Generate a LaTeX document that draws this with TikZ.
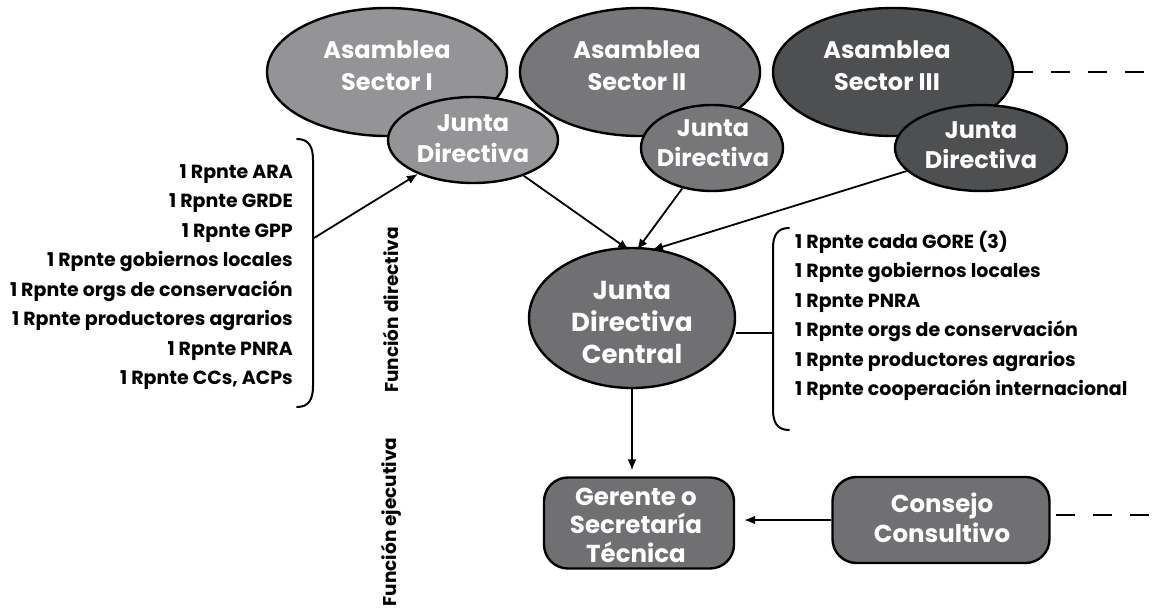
\documentclass[tikz,border=0pt]{standalone}
\usepackage{fontspec}
\setmainfont{Poppins}
\usetikzlibrary{arrows.meta,shapes.geometric}
\definecolor{gLight}{HTML}{949497}
\definecolor{gMid}{HTML}{77777A}
\definecolor{gDark}{HTML}{4E4F51}
\definecolor{gBox}{HTML}{707073}
\tikzset{
  blob/.style={ellipse, draw=black, line width=2.4pt, inner sep=0pt},
  roundbox/.style={rectangle, rounded corners=24pt, draw=black, line width=2.4pt, inner sep=0pt},
  title/.style={text=white, align=center, inner sep=0pt,
    font=\fontsize{24}{31}\selectfont\bfseries},
  arr/.style={line width=1.8pt, -{Latex[length=11pt,width=9pt]}},
  brace/.style={line width=2pt, line cap=round},
  ext/.style={line width=2pt, dash pattern=on 19pt off 18pt},
  listtxt/.style={font=\fontsize{19}{29.5}\selectfont\bfseries, inner sep=0pt},
  sidetxt/.style={font=\fontsize{18.5}{20}\selectfont\bfseries, rotate=90, inner sep=0pt}
}
\begin{document}
\begin{tikzpicture}[x=1pt,y=-1pt]
\useasboundingbox (0,0) rectangle (1155,610);

% sector assemblies with their boards
\node[blob, fill=gLight, minimum width=240pt, minimum height=128pt] (a1) at (387,72) {};
\node[title, font=\fontsize{24}{32}\selectfont\bfseries] (a1t) at (387,66) {Asamblea\\Sector I};
\node[blob, fill=gLight, minimum width=170pt, minimum height=86pt] (j1) at (473,140) {};
\node[title] (j1t) at (473,139) {Junta\\Directiva};

\node[blob, fill=gMid, minimum width=240pt, minimum height=128pt] (a2) at (640,72) {};
\node[title, font=\fontsize{24}{32}\selectfont\bfseries] (a2t) at (637,66) {Asamblea\\Sector II};
\node[blob, fill=gMid, minimum width=142pt, minimum height=86pt] (j2) at (712,148) {};
\node[title, font=\fontsize{24}{30}\selectfont\bfseries] (j2t) at (713,143) {Junta\\Directiva};

\node[blob, fill=gDark, minimum width=240pt, minimum height=128pt] (a3) at (893,72) {};
\node[title, font=\fontsize{24}{32}\selectfont\bfseries] (a3t) at (887,66) {Asamblea\\Sector III};
\node[blob, fill=gDark, minimum width=172pt, minimum height=86pt] (j3) at (981,148) {};
\node[title, font=\fontsize{24}{30}\selectfont\bfseries] (j3t) at (981,145) {Junta\\Directiva};

% central board
\node[blob, fill=gBox, minimum width=206pt, minimum height=140pt] (jc) at (632,318) {};
\node[title, font=\fontsize{26}{32}\selectfont\bfseries] (jct) at (632,322) {Junta\\Directiva\\Central};

% executive level
\node[roundbox, fill=gBox, minimum width=190pt, minimum height=91pt] (ger) at (639,523) {};
\node[title, font=\fontsize{24.5}{28.5}\selectfont\bfseries] (gert) at (636,525) {Gerente o\\Secretaría\\Técnica};
\node[roundbox, fill=gBox, minimum width=217pt, minimum height=86pt] (con) at (941,520) {};
\node[title, font=\fontsize{24.5}{30}\selectfont\bfseries] (cont) at (942,518) {Consejo\\Consultivo};

% arrows into the central board
\coordinate (t1) at (629,250);
\coordinate (t2) at (637,250);
\coordinate (t3) at (652,250);
\draw[arr] (j1) -- (t1);
\draw[arr] (j2) -- (t2);
\draw[arr] (j3) -- (t3);

% central board to manager, council to manager
\draw[arr, shorten >=6pt] (jc.south) -- (jc.south |- ger.north);
\draw[arr, shorten >=9pt] (con.west) -- (ger.east |- con.west);

% open-ended links
\coordinate (e1) at (1150,72);
\coordinate (s2) at (1056,515);
\coordinate (e2) at (1150,515);
\draw[ext] (a3.east) -- (e1);
\draw[ext] (s2) -- (e2);

% left member list and brace
\node[listtxt, align=right, anchor=east] (ll) at (293,277) {1 Rpnte ARA\\1 Rpnte GRDE\\1 Rpnte GPP\\1 Rpnte gobiernos locales\\1 Rpnte orgs de conservación\\1 Rpnte productores agrarios\\1 Rpnte PNRA\\1 Rpnte CCs, ACPs};
\draw[brace] (297,139) .. controls (309,139) and (313,147) .. (313,160) -- (313,386) .. controls (313,399) and (309,407) .. (297,407);
\coordinate (lb) at (314,238);
\draw[arr] (lb) -- (j1);

% right member list and brace
\node[listtxt, align=left, anchor=west] (rl) at (795,316) {1 Rpnte cada GORE (3)\\1 Rpnte gobiernos locales\\1 Rpnte PNRA\\1 Rpnte orgs de conservación\\1 Rpnte productores agrarios\\1 Rpnte cooperación internacional};
\draw[brace] (789,228) .. controls (777,228) and (773,236) .. (773,248) -- (773,410) .. controls (773,422) and (777,430) .. (789,430);
\coordinate (rb) at (773,333);
\draw[line width=2pt] (jc.east |- rb) -- (rb);

% function labels
\node[sidetxt] (fd) at (391,310) {Función directiva};
\node[sidetxt] (fe) at (391,522) {Función ejecutiva};
\end{tikzpicture}
\end{document}
